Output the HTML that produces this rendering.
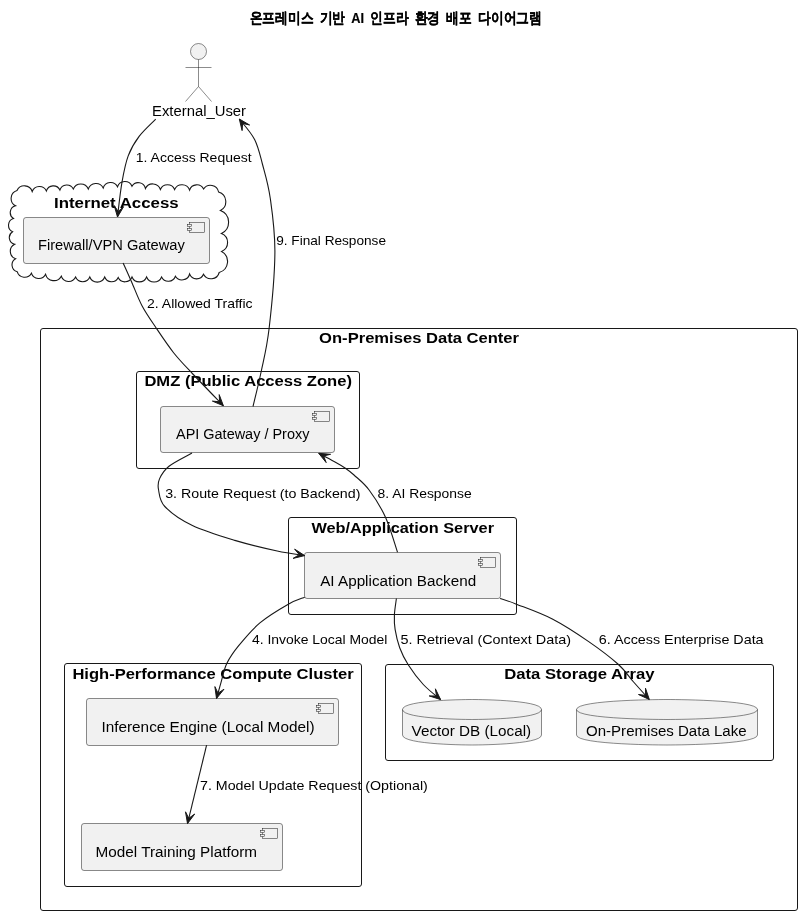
<!DOCTYPE html>
<html><head><meta charset="utf-8"><style>
html,body{margin:0;padding:0;background:#fff;width:802px;height:915px;overflow:hidden}
svg{display:block;will-change:transform}
text{font-family:"Liberation Sans", sans-serif;fill:#000}
</style></head><body>
<svg width="802" height="915" viewBox="0 0 802 915"><text x="249.5" y="23" font-size="15" font-weight="bold" textLength="292.5" lengthAdjust="spacingAndGlyphs" style="stroke:#000;stroke-width:0.2px;word-spacing:3px">온프레미스 기반 AI 인프라 환경 배포 다이어그램</text>
<ellipse cx="198.5" cy="51.5" rx="8" ry="8" fill="#F1F1F1" stroke="#181818" stroke-width="0.5"/>
<path d="M198.5,59.5 L198.5,86.5 M185.5,67.5 L211.5,67.5 M198.5,86.5 L185.5,101.5 M198.5,86.5 L211.5,101.5" fill="none" stroke="#181818" stroke-width="0.5"/>
<text x="152.0" y="115.8" font-size="14"  textLength="94.0" lengthAdjust="spacingAndGlyphs">External_User</text>
<path d="M17.0,190.5 A8.2,8.2 0 0 1 32.2,191.5 A7.7,7.7 0 0 1 46.4,190.9 A7.3,7.3 0 0 1 59.9,190.0 A7.3,7.3 0 0 1 73.3,189.0 A8.1,8.1 0 0 1 88.3,189.0 A8.1,8.1 0 0 1 103.2,188.0 A7.7,7.7 0 0 1 117.5,186.8 A7.8,7.8 0 0 1 132.0,186.2 A7.3,7.3 0 0 1 145.4,188.5 A8.1,8.1 0 0 1 160.4,189.5 A7.7,7.7 0 0 1 174.6,189.5 A8.1,8.1 0 0 1 189.6,190.0 A7.6,7.6 0 0 1 203.6,189.0 A8.3,8.3 0 0 1 218.6,192.0 A10.1,10.1 0 0 1 220.4,210.6 A12.4,12.4 0 0 1 221.4,233.5 A9.7,9.7 0 0 1 221.6,251.5 A11.4,11.4 0 0 1 219.2,272.5 A8.5,8.5 0 0 1 203.5,274.3 A7.5,7.5 0 0 1 189.6,274.0 A7.8,7.8 0 0 1 175.4,276.2 A7.5,7.5 0 0 1 161.6,277.0 A8.1,8.1 0 0 1 146.6,277.0 A7.9,7.9 0 0 1 132.0,277.0 A7.5,7.5 0 0 1 118.2,277.5 A7.3,7.3 0 0 1 104.7,277.0 A8.0,8.0 0 0 1 89.8,277.0 A7.7,7.7 0 0 1 75.6,277.0 A7.7,7.7 0 0 1 61.3,276.2 A8.5,8.5 0 0 1 45.6,274.3 A7.7,7.7 0 0 1 31.4,273.2 A7.7,7.7 0 0 1 17.2,271.7 A7.1,7.1 0 0 1 15.6,258.7 A7.8,7.8 0 0 1 14.7,244.3 A6.9,6.9 0 0 1 12.6,231.7 A7.1,7.1 0 0 1 13.5,218.5 A7.0,7.0 0 0 1 15.6,205.8 A8.3,8.3 0 0 1 17.0,190.5 Z" fill="#FFFFFF" stroke="#181818" stroke-width="1.1"/>
<text x="54.0" y="207.8" font-size="14" font-weight="bold" textLength="124.6" lengthAdjust="spacingAndGlyphs">Internet Access</text>
<rect x="23.5" y="217.5" width="186.0" height="46.0" rx="2.5" ry="2.5" fill="#F1F1F1" stroke="#181818" stroke-width="0.5"/><rect x="189.5" y="222.5" width="15" height="10" fill="#F1F1F1" stroke="#181818" stroke-width="0.5"/><rect x="187.5" y="224.5" width="4" height="2" fill="#F1F1F1" stroke="#181818" stroke-width="0.5"/><rect x="187.5" y="228.5" width="4" height="2" fill="#F1F1F1" stroke="#181818" stroke-width="0.5"/>
<text x="38.0" y="249.7" font-size="14"  textLength="146.8" lengthAdjust="spacingAndGlyphs">Firewall/VPN Gateway</text>
<rect x="40.5" y="328.5" width="757.0" height="582.0" rx="2.5" ry="2.5" fill="none" stroke="#181818" stroke-width="1"/>
<text x="319.1" y="342.8" font-size="14" font-weight="bold" textLength="199.9" lengthAdjust="spacingAndGlyphs">On-Premises Data Center</text>
<rect x="136.5" y="371.5" width="223.0" height="97.0" rx="2.5" ry="2.5" fill="none" stroke="#181818" stroke-width="1"/>
<text x="144.4" y="385.9" font-size="14" font-weight="bold" textLength="207.6" lengthAdjust="spacingAndGlyphs">DMZ (Public Access Zone)</text>
<rect x="160.5" y="406.5" width="174.0" height="46.0" rx="2.5" ry="2.5" fill="#F1F1F1" stroke="#181818" stroke-width="0.5"/><rect x="314.5" y="411.5" width="15" height="10" fill="#F1F1F1" stroke="#181818" stroke-width="0.5"/><rect x="312.5" y="413.5" width="4" height="2" fill="#F1F1F1" stroke="#181818" stroke-width="0.5"/><rect x="312.5" y="417.5" width="4" height="2" fill="#F1F1F1" stroke="#181818" stroke-width="0.5"/>
<text x="176.0" y="439.0" font-size="14"  textLength="133.4" lengthAdjust="spacingAndGlyphs">API Gateway / Proxy</text>
<rect x="288.5" y="517.5" width="228.0" height="97.0" rx="2.5" ry="2.5" fill="none" stroke="#181818" stroke-width="1"/>
<text x="311.4" y="532.5" font-size="14" font-weight="bold" textLength="182.6" lengthAdjust="spacingAndGlyphs">Web/Application Server</text>
<rect x="304.5" y="552.5" width="196.0" height="46.0" rx="2.5" ry="2.5" fill="#F1F1F1" stroke="#181818" stroke-width="0.5"/><rect x="480.5" y="557.5" width="15" height="10" fill="#F1F1F1" stroke="#181818" stroke-width="0.5"/><rect x="478.5" y="559.5" width="4" height="2" fill="#F1F1F1" stroke="#181818" stroke-width="0.5"/><rect x="478.5" y="563.5" width="4" height="2" fill="#F1F1F1" stroke="#181818" stroke-width="0.5"/>
<text x="320.2" y="586.3" font-size="14"  textLength="156.0" lengthAdjust="spacingAndGlyphs">AI Application Backend</text>
<rect x="64.5" y="663.5" width="297.0" height="223.0" rx="2.5" ry="2.5" fill="none" stroke="#181818" stroke-width="1"/>
<text x="72.4" y="678.7" font-size="14" font-weight="bold" textLength="281.2" lengthAdjust="spacingAndGlyphs">High-Performance Compute Cluster</text>
<rect x="86.5" y="698.5" width="252.0" height="47.0" rx="2.5" ry="2.5" fill="#F1F1F1" stroke="#181818" stroke-width="0.5"/><rect x="318.5" y="703.5" width="15" height="10" fill="#F1F1F1" stroke="#181818" stroke-width="0.5"/><rect x="316.5" y="705.5" width="4" height="2" fill="#F1F1F1" stroke="#181818" stroke-width="0.5"/><rect x="316.5" y="709.5" width="4" height="2" fill="#F1F1F1" stroke="#181818" stroke-width="0.5"/>
<text x="101.4" y="732.0" font-size="14"  textLength="213.1" lengthAdjust="spacingAndGlyphs">Inference Engine (Local Model)</text>
<rect x="81.5" y="823.5" width="201.0" height="47.0" rx="2.5" ry="2.5" fill="#F1F1F1" stroke="#181818" stroke-width="0.5"/><rect x="262.5" y="828.5" width="15" height="10" fill="#F1F1F1" stroke="#181818" stroke-width="0.5"/><rect x="260.5" y="830.5" width="4" height="2" fill="#F1F1F1" stroke="#181818" stroke-width="0.5"/><rect x="260.5" y="834.5" width="4" height="2" fill="#F1F1F1" stroke="#181818" stroke-width="0.5"/>
<text x="95.6" y="857.0" font-size="14"  textLength="161.4" lengthAdjust="spacingAndGlyphs">Model Training Platform</text>
<rect x="385.5" y="664.5" width="388.0" height="96.0" rx="2.5" ry="2.5" fill="none" stroke="#181818" stroke-width="1"/>
<text x="504.2" y="678.6" font-size="14" font-weight="bold" textLength="150.4" lengthAdjust="spacingAndGlyphs">Data Storage Array</text>
<path d="M402.5,709.5 C402.5,699.5 472.0,699.5 472.0,699.5 C472.0,699.5 541.5,699.5 541.5,709.5 L541.5,735.0 C541.5,745.0 472.0,745.0 472.0,745.0 C472.0,745.0 402.5,745.0 402.5,735.0 L402.5,709.5 Z" fill="#F1F1F1" stroke="#181818" stroke-width="0.5"/><path d="M402.5,709.5 C402.5,719.5 472.0,719.5 472.0,719.5 C472.0,719.5 541.5,719.5 541.5,709.5" fill="none" stroke="#181818" stroke-width="0.5"/>
<text x="411.6" y="735.5" font-size="14"  textLength="119.6" lengthAdjust="spacingAndGlyphs">Vector DB (Local)</text>
<path d="M576.5,709.5 C576.5,699.5 667.0,699.5 667.0,699.5 C667.0,699.5 757.5,699.5 757.5,709.5 L757.5,735.0 C757.5,745.0 667.0,745.0 667.0,745.0 C667.0,745.0 576.5,745.0 576.5,735.0 L576.5,709.5 Z" fill="#F1F1F1" stroke="#181818" stroke-width="0.5"/><path d="M576.5,709.5 C576.5,719.5 667.0,719.5 667.0,719.5 C667.0,719.5 757.5,719.5 757.5,709.5" fill="none" stroke="#181818" stroke-width="0.5"/>
<text x="586.0" y="735.5" font-size="14"  textLength="160.6" lengthAdjust="spacingAndGlyphs">On-Premises Data Lake</text>
<path d="M155.7,119.2 C153.0,122.0 143.9,130.1 139.3,136.2 C134.7,142.3 131.1,148.2 128.2,155.9 C125.3,163.6 123.8,171.9 122.0,182.1 C120.2,192.3 118.2,211.2 117.5,217.0" fill="none" stroke="#181818" stroke-width="1.1"/><polygon fill="#181818" stroke="#181818" stroke-width="1" stroke-linejoin="miter" points="117.5,217.0 114.2,205.5 118.2,211.5 123.6,206.7 117.5,217.0"/>
<text x="135.8" y="161.7" font-size="13"  textLength="115.8" lengthAdjust="spacingAndGlyphs">1. Access Request</text>
<path d="M253.0,406.5 C254.4,400.6 258.6,384.0 261.3,371.0 C264.0,358.0 266.8,348.2 269.1,328.5 C271.4,308.8 274.7,274.5 274.9,252.8 C275.1,231.1 272.4,213.3 270.3,198.5 C268.2,183.7 265.0,173.8 262.4,164.0 C259.8,154.2 258.4,147.0 254.6,139.5 C250.8,132.0 241.9,122.4 239.3,119.0" fill="none" stroke="#181818" stroke-width="1.1"/><polygon fill="#181818" stroke="#181818" stroke-width="1" stroke-linejoin="miter" points="239.3,119.0 249.6,125.0 242.6,123.4 242.1,130.6 239.3,119.0"/>
<text x="276.2" y="244.5" font-size="13"  textLength="109.8" lengthAdjust="spacingAndGlyphs">9. Final Response</text>
<path d="M123.1,262.9 C124.5,265.9 128.2,274.1 131.3,281.2 C134.5,288.3 137.8,297.8 142.0,305.7 C146.2,313.6 151.2,320.6 156.5,328.5 C161.8,336.4 167.8,345.4 173.8,353.0 C179.9,360.6 184.5,365.2 192.8,374.0 C201.1,382.8 218.3,400.5 223.4,405.8" fill="none" stroke="#181818" stroke-width="1.1"/><polygon fill="#181818" stroke="#181818" stroke-width="1" stroke-linejoin="miter" points="223.4,405.8 212.4,401.1 219.6,401.8 219.2,394.6 223.4,405.8"/>
<text x="147.0" y="307.8" font-size="13"  textLength="105.6" lengthAdjust="spacingAndGlyphs">2. Allowed Traffic</text>
<path d="M192.0,453.0 C188.2,455.2 174.4,461.9 169.0,466.2 C163.6,470.5 161.2,475.0 159.5,478.9 C157.8,482.8 157.6,484.9 158.5,489.5 C159.4,494.1 159.2,500.5 164.8,506.5 C170.5,512.5 180.7,519.9 192.4,525.5 C204.1,531.1 220.7,536.1 234.8,540.4 C248.9,544.6 265.6,548.5 277.2,551.0 C288.8,553.5 300.1,554.8 304.7,555.6" fill="none" stroke="#181818" stroke-width="1.1"/><polygon fill="#181818" stroke="#181818" stroke-width="1" stroke-linejoin="miter" points="304.7,555.6 293.1,558.4 299.3,554.7 294.6,549.1 304.7,555.6"/>
<text x="165.2" y="497.6" font-size="13"  textLength="195.2" lengthAdjust="spacingAndGlyphs">3. Route Request (to Backend)</text>
<path d="M397.5,552.2 C395.5,546.4 390.3,527.9 385.6,517.5 C380.9,507.1 374.4,497.1 369.1,490.0 C363.8,482.9 358.0,478.7 354.0,475.0 C350.0,471.3 348.2,470.2 345.0,468.0 C341.8,465.8 339.4,464.4 335.0,462.0 C330.6,459.6 321.4,454.8 318.7,453.3" fill="none" stroke="#181818" stroke-width="1.1"/><polygon fill="#181818" stroke="#181818" stroke-width="1" stroke-linejoin="miter" points="318.7,453.3 330.6,454.3 323.6,455.9 326.2,462.6 318.7,453.3"/>
<text x="377.6" y="497.6" font-size="13"  textLength="94.0" lengthAdjust="spacingAndGlyphs">8. AI Response</text>
<path d="M304.7,597.2 C302.0,598.4 295.8,599.9 288.3,604.2 C280.8,608.5 268.1,616.0 259.9,622.9 C251.7,629.8 244.4,638.7 238.9,645.4 C233.4,652.1 229.9,657.1 226.9,663.3 C223.9,669.5 222.6,676.9 220.9,682.8 C219.2,688.7 217.2,695.9 216.5,698.5" fill="none" stroke="#181818" stroke-width="1.1"/><polygon fill="#181818" stroke="#181818" stroke-width="1" stroke-linejoin="miter" points="216.5,698.5 214.9,686.6 218.0,693.2 224.0,689.2 216.5,698.5"/>
<text x="252.0" y="643.6" font-size="13"  textLength="135.4" lengthAdjust="spacingAndGlyphs">4. Invoke Local Model</text>
<path d="M396.4,598.5 C396.1,601.2 394.6,609.8 394.4,614.9 C394.2,620.0 394.2,623.9 395.1,629.4 C396.0,634.9 397.5,641.8 399.7,647.7 C401.9,653.6 404.3,658.7 408.2,664.8 C412.1,670.9 417.9,678.7 423.3,684.5 C428.7,690.3 437.7,697.1 440.6,699.6" fill="none" stroke="#181818" stroke-width="1.1"/><polygon fill="#181818" stroke="#181818" stroke-width="1" stroke-linejoin="miter" points="440.6,699.6 429.2,695.9 436.5,696.0 435.4,688.8 440.6,699.6"/>
<text x="400.6" y="644.0" font-size="13"  textLength="170.4" lengthAdjust="spacingAndGlyphs">5. Retrieval (Context Data)</text>
<path d="M500.1,598.5 C502.7,599.4 507.0,600.4 515.8,603.9 C524.6,607.4 540.6,612.9 552.8,619.2 C564.9,625.5 577.9,634.1 588.7,641.6 C599.6,649.1 610.4,657.3 617.9,664.0 C625.4,670.7 628.4,676.1 633.6,682.0 C638.8,687.9 646.7,696.6 649.3,699.5" fill="none" stroke="#181818" stroke-width="1.1"/><polygon fill="#181818" stroke="#181818" stroke-width="1" stroke-linejoin="miter" points="649.3,699.5 638.5,694.5 645.6,695.4 645.5,688.2 649.3,699.5"/>
<text x="598.8" y="644.0" font-size="13"  textLength="164.8" lengthAdjust="spacingAndGlyphs">6. Access Enterprise Data</text>
<path d="M206.6,745.1 C203.4,758.2 190.7,810.5 187.5,823.6" fill="none" stroke="#181818" stroke-width="1.1"/><polygon fill="#181818" stroke="#181818" stroke-width="1" stroke-linejoin="miter" points="187.5,823.6 185.5,811.8 188.8,818.3 194.7,814.0 187.5,823.6"/>
<text x="200.0" y="790.0" font-size="13"  textLength="227.8" lengthAdjust="spacingAndGlyphs">7. Model Update Request (Optional)</text></svg>
</body></html>
